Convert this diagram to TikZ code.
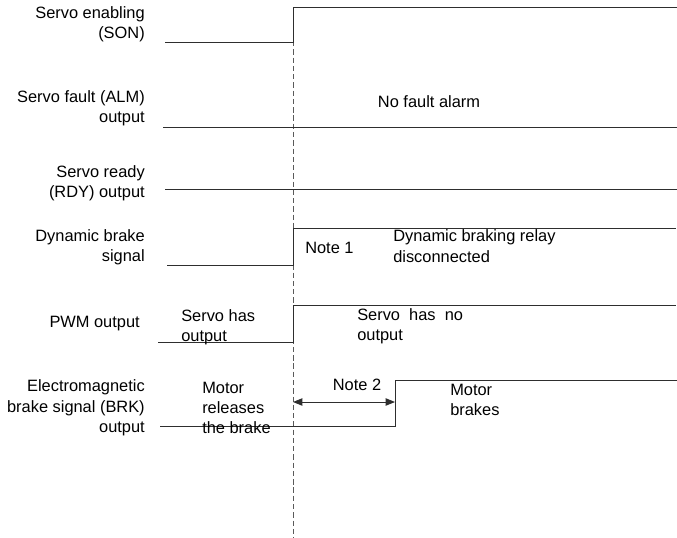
\documentclass[tikz,border=0pt]{standalone}
\usepackage{fontspec}
\setmainfont{Liberation Sans}
\usetikzlibrary{arrows.meta}
\definecolor{mSig}{HTML}{2E2E2E}
\definecolor{mDash}{HTML}{5A5A5A}

\begin{document}
\begin{tikzpicture}[x=0.75pt, y=-0.75pt, font=\fontsize{12.3}{15.3}\selectfont,
  lbl/.style={anchor=east, align=right, inner sep=0pt},
  txt/.style={anchor=west, align=left, inner sep=0pt},
  sig/.style={draw=mSig, line width=0.7pt}]
\useasboundingbox (0,0) rectangle (677,538);
% signal names
\node[lbl] (son) at (145,24) {Servo enabling\\(SON)};
\node[lbl] (alm) at (145,108) {Servo fault (ALM)\\output};
\node[lbl] (rdy) at (145,183) {Servo ready\\(RDY) output};
\node[lbl] (dbs) at (145,247) {Dynamic brake\\signal};
\node[lbl] (pwm) at (140,324) {PWM output};
\node[lbl] (brk) at (145,408) {Electromagnetic\\brake signal (BRK)\\output};
% time marks
\coordinate (t0) at (293,402);
\coordinate (t1) at (395,402);
\draw[mDash, line width=0.6pt, dash pattern=on 4pt off 2.2pt] (293,8) -- (293,538);
% waveforms
\draw[sig] (165,42) -- (293,42) -- (293,7) -- (677,7);
\draw[sig] (163,127) -- (677,127);
\draw[sig] (165,189) -- (677,189);
\draw[sig] (167,265) -- (293,265) -- (293,228) -- (676,228);
\draw[sig] (158,342) -- (293,342) -- (293,305) -- (676,305);
\draw[sig] (160,426) -- (395,426) -- (395,380) -- (677,380);
\draw[sig, {Triangle[length=7pt,width=5.5pt]}-{Triangle[length=7pt,width=5.5pt]}] (t0) -- (t1);
% annotations
\node (nofault) at (429,102) {No fault alarm};
\node[txt] (note1) at (305,248) {Note 1};
\node[txt] (relay) at (393,246) {Dynamic braking relay\\disconnected};
\node[txt] (hasout) at (181,327) {Servo has\\output};
\node[txt] (noout) at (357,326) {Servo~ has~ no\\output};
\node (note2) at (357,385) {Note 2};
\node[txt] (release) at (202,408) {Motor\\releases\\the brake};
\node[txt] (brakes) at (450,400) {Motor\\brakes};
\end{tikzpicture}
\end{document}
